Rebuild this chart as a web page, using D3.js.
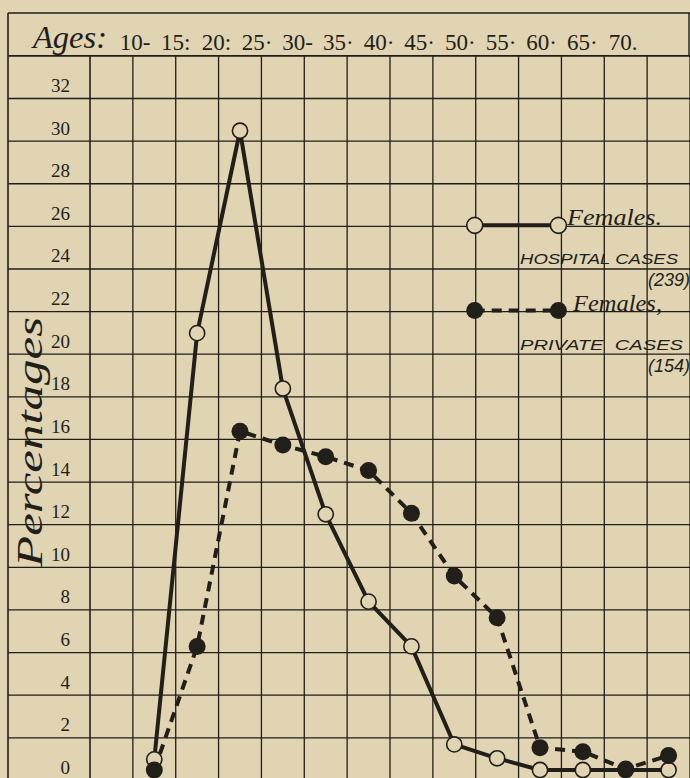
<!DOCTYPE html>
<html><head><meta charset="utf-8">
<script src="https://cdn.jsdelivr.net/npm/d3@7"></script>
<style>
html,body{margin:0;padding:0;background:#e0d4b3;}
svg{display:block;}
</style></head><body>
<svg id="chart" width="690" height="778"></svg>
<script>
// ---- data ----
const ageLabels = ["10-","15:","20:","25·","30-","35·","40·","45·","50·","55·","60·","65·","70."];
const hospitalCases = [0.5, 20.5, 30.0, 17.9, 12.0, 7.9, 5.8, 1.2, 0.55, 0, 0, 0, 0];
const privateCases = [0, 5.8, 15.9, 15.25, 14.7, 14.05, 12.05, 9.1, 7.15, 1.05, 0.86, 0.05, 0.68];
const yTicks = [0,2,4,6,8,10,12,14,16,18,20,22,24,26,28,30,32];
const legendTitles = ["Females.", "Females,"];
const legendCases = ["HOSPITAL CASES", "PRIVATE  CASES"];
const legendCounts = ["(239)", "(154)"];

// ---- styles ----
const INK = "#221e19";
const BG = "#e0d4b3";
const W = 690, H = 778;
const svg = d3.select("#chart");
svg.append("rect").attr("width", W).attr("height", H).attr("fill", BG);

const col = d3.scaleLinear().domain([0, 14]).range([90, 690]);
const y = d3.scaleLinear().domain([0, 32]).range([770, 88.1]);
const headerX = d3.scalePoint().domain(ageLabels).range([135, 623]);
const gridOff = 10.4;
const headerTop = 13, gridTop = y(34) + gridOff;

// frame + header
const frame = svg.append("g").attr("stroke", INK).attr("fill", "none");
frame.append("line").attr("x1", 8).attr("x2", W).attr("y1", headerTop).attr("y2", headerTop).attr("stroke-width", 1.6);
frame.append("line").attr("x1", 8).attr("x2", 8).attr("y1", headerTop).attr("y2", H).attr("stroke-width", 1.6);
frame.append("line").attr("x1", 689).attr("x2", 689).attr("y1", headerTop).attr("y2", gridTop).attr("stroke-width", 1.4);

// vertical grid
frame.selectAll("line.v").data(d3.range(0, 15)).join("line")
  .attr("class", "v")
  .attr("x1", d => col(d)).attr("x2", d => col(d))
  .attr("y1", gridTop).attr("y2", H)
  .attr("stroke-width", d => d === 0 ? 1.6 : 1.3);

// horizontal grid (lines sit just under each label)
const hVals = yTicks.slice(1).concat([34]);
frame.selectAll("line.h").data(hVals).join("line")
  .attr("class", "h")
  .attr("x1", 8).attr("x2", W)
  .attr("y1", d => y(d) + gridOff).attr("y2", d => y(d) + gridOff)
  .attr("stroke-width", d => d === 34 ? 1.6 : 1.3);

// header text
svg.append("text").text("Ages:")
  .attr("x", 33).attr("y", 48)
  .attr("font-family", "Liberation Serif").attr("font-style", "italic")
  .attr("font-size", 32).attr("fill", INK)
  .attr("textLength", 74).attr("lengthAdjust", "spacingAndGlyphs");
svg.append("g").selectAll("text").data(ageLabels).join("text")
  .text(d => d)
  .attr("x", d => headerX(d)).attr("y", 50)
  .attr("text-anchor", "middle")
  .attr("font-family", "Liberation Serif").attr("font-size", 23).attr("fill", INK);

// y axis labels
const yAxis = d3.axisLeft(y).tickValues(yTicks).tickSize(0).tickPadding(20).tickFormat(d3.format("d"));
svg.append("g").attr("transform", `translate(${col(0)},0)`).call(yAxis)
  .call(g => g.select(".domain").remove())
  .call(g => g.selectAll("text")
    .attr("font-family", "Liberation Serif").attr("font-size", 19)
    .attr("fill", INK).attr("dy", "0.18em"));

// y axis title
svg.append("text").text("Percentages")
  .attr("transform", "translate(42,567) rotate(-90)")
  .attr("font-family", "Liberation Serif").attr("font-style", "italic")
  .attr("font-size", 36).attr("fill", INK)
  .attr("textLength", 250).attr("lengthAdjust", "spacingAndGlyphs");

// lines
const line = d3.line().x((d, i) => col(i + 1.5)).y(d => y(d));
svg.append("path").datum(hospitalCases).attr("d", line)
  .attr("fill", "none").attr("stroke", INK).attr("stroke-width", 4).attr("stroke-linejoin", "round");
svg.append("path").datum(privateCases).attr("d", line)
  .attr("fill", "none").attr("stroke", INK).attr("stroke-width", 4).attr("stroke-dasharray", "10,7");

// markers (private dots drawn last, as in the original)
svg.append("g").selectAll("circle").data(hospitalCases).join("circle")
  .attr("cx", (d, i) => col(i + 1.5)).attr("cy", d => y(d)).attr("r", 7.6)
  .attr("fill", BG).attr("stroke", INK).attr("stroke-width", 1.6);
svg.append("g").selectAll("circle").data(privateCases).join("circle")
  .attr("cx", (d, i) => col(i + 1.5)).attr("cy", d => y(d)).attr("r", 8.5)
  .attr("fill", INK);

// legend
const lx1 = col(9) - 1, lx2 = col(11) - 3;
const ly = [y(26) + gridOff - 1, y(22) + gridOff - 1];
const lg = svg.append("g");
lg.append("line").attr("x1", lx1).attr("x2", lx2).attr("y1", ly[0]).attr("y2", ly[0])
  .attr("stroke", INK).attr("stroke-width", 4);
lg.append("line").attr("x1", lx1).attr("x2", lx2).attr("y1", ly[1]).attr("y2", ly[1])
  .attr("stroke", INK).attr("stroke-width", 4).attr("stroke-dasharray", "10,7");
[lx1, lx2].forEach(x => {
  lg.append("circle").attr("cx", x).attr("cy", ly[0]).attr("r", 8)
    .attr("fill", BG).attr("stroke", INK).attr("stroke-width", 1.6);
  lg.append("circle").attr("cx", x).attr("cy", ly[1]).attr("r", 8.5).attr("fill", INK);
});
lg.selectAll("text.t").data(legendTitles).join("text").attr("class", "t")
  .text(d => d)
  .attr("x", (d, i) => i === 0 ? 567 : 573).attr("y", (d, i) => ly[i])
  .attr("font-family", "Liberation Serif").attr("font-style", "italic")
  .attr("font-size", 23).attr("fill", INK)
  .attr("textLength", (d, i) => i === 0 ? 95 : 89).attr("lengthAdjust", "spacingAndGlyphs");
lg.selectAll("text.c").data(legendCases).join("text").attr("class", "c")
  .text(d => d).attr("xml:space", "preserve")
  .attr("x", 520).attr("y", (d, i) => ly[i] + 39)
  .attr("font-family", "Liberation Sans").attr("font-style", "italic")
  .attr("font-size", 15).attr("fill", INK)
  .attr("textLength", (d, i) => i === 0 ? 158 : 163).attr("lengthAdjust", "spacingAndGlyphs");
lg.selectAll("text.n").data(legendCounts).join("text").attr("class", "n")
  .text(d => d)
  .attr("x", 690).attr("y", (d, i) => ly[i] + 61)
  .attr("text-anchor", "end")
  .attr("font-family", "Liberation Sans").attr("font-style", "italic")
  .attr("font-size", 18).attr("fill", INK);
</script>
</body></html>
